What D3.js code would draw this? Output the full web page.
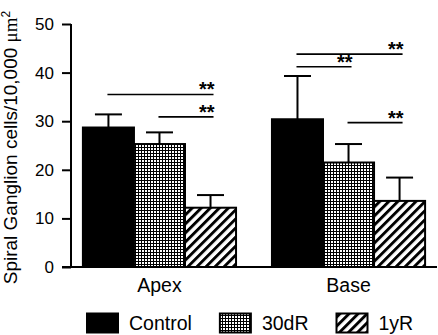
<!DOCTYPE html>
<html lang="en">
<head>
<meta charset="UTF-8">
<title>Spiral Ganglion cells</title>
<script src="https://d3js.org/d3.v7.min.js"></script>
<style>
  body { margin: 0; background: #fff; }
  text { font-family: Arial, "Liberation Sans", sans-serif; fill: #000; }
</style>
</head>
<body>
<script>
// data
const groups = ['Apex', 'Base'];
const series = ['Control', '30dR', '1yR'];
const means = {
    Apex: [28.7, 25.3, 12.2],
    Base: [30.4, 21.5, 13.6]
};
const errs = {
    Apex: [2.7, 2.4, 2.6],
    Base: [8.9, 3.8, 4.8]
};
const yTicks = [0, 10, 20, 30, 40, 50];
// significance brackets: group, from series, to series, height (y units)
const sigGroup = ['Apex', 'Apex', 'Base', 'Base', 'Base'];
const sigFrom = ['Control', '30dR', 'Control', 'Control', '30dR'];
const sigTo = ['1yR', '1yR', '1yR', '30dR', '1yR'];
const sigLevel = [35.5, 30.9, 43.8, 41.2, 29.7];
const sigLabel = ['**', '**', '**', '**', '**'];

const width = 438, height = 335;
const svg = d3.select('body').append('svg')
    .attr('width', width)
    .attr('height', height);

// patterns
const defs = svg.append('defs');
const grid = defs.append('pattern')
    .attr('id', 'grid')
    .attr('patternUnits', 'userSpaceOnUse')
    .attr('width', 3).attr('height', 3);
grid.append('rect').attr('width', 3).attr('height', 3).attr('fill', '#fff');
grid.append('rect').attr('width', 1).attr('height', 3).attr('fill', '#000');
grid.append('rect').attr('width', 3).attr('height', 1).attr('fill', '#000');

const hatch = defs.append('pattern')
    .attr('id', 'hatch')
    .attr('patternUnits', 'userSpaceOnUse')
    .attr('width', 6.4).attr('height', 6.4)
    .attr('patternTransform', 'rotate(45)');
hatch.append('rect').attr('width', 6.4).attr('height', 6.4).attr('fill', '#fff');
hatch.append('rect').attr('width', 2.9).attr('height', 6.4).attr('fill', '#000');

const fills = d3.scaleOrdinal()
    .domain(series)
    .range(['#000', 'url(#grid)', 'url(#hatch)']);

// scales
const y = d3.scaleLinear().domain([0, 50]).range([267, 24]);
const x0 = d3.scaleBand().domain(groups).range([71, 437])
    .paddingInner(0.19).paddingOuter(0.063);
const x1 = d3.scaleBand().domain(series).range([0, x0.bandwidth()]);

const barCenter = (g, s) => x0(g) + x1(s) + x1.bandwidth() / 2;

// bars
const barData = [];
groups.forEach(g => series.forEach((s, i) => {
    barData.push({ group: g, series: s, value: means[g][i], err: errs[g][i] });
}));

svg.append('g').selectAll('rect')
    .data(barData)
    .enter()
    .append('rect')
    .attr('x', d => x0(d.group) + x1(d.series))
    .attr('y', d => y(d.value))
    .attr('width', x1.bandwidth())
    .attr('height', d => y(0) - y(d.value))
    .attr('fill', d => fills(d.series))
    .attr('stroke', '#000')
    .attr('stroke-width', 2);

// error bars (upper only)
const eb = svg.append('g').attr('stroke', '#000').attr('stroke-width', 2);
barData.forEach(d => {
    const cx = barCenter(d.group, d.series);
    eb.append('line')
        .attr('x1', cx).attr('x2', cx)
        .attr('y1', y(d.value)).attr('y2', y(d.value + d.err));
    eb.append('line')
        .attr('x1', cx - 13.5).attr('x2', cx + 13.5)
        .attr('y1', y(d.value + d.err)).attr('y2', y(d.value + d.err));
});

// y axis
const yAxis = d3.axisLeft(y).tickValues(yTicks).tickSize(9).tickPadding(8);
const ya = svg.append('g')
    .attr('transform', 'translate(71,0)')
    .call(yAxis);
ya.select('.domain').attr('stroke-width', 2).attr('d', `M0,${y(50)}V${y(0)}`);
ya.selectAll('.tick line').attr('stroke-width', 2);
ya.selectAll('.tick text')
    .style('font-family', 'Arial, "Liberation Sans", sans-serif')
    .style('font-size', '17px');

// x baseline
svg.append('line')
    .attr('x1', 62).attr('x2', 437)
    .attr('y1', y(0)).attr('y2', y(0))
    .attr('stroke', '#000').attr('stroke-width', 2);

// group labels
svg.append('g').selectAll('text')
    .data(groups)
    .enter()
    .append('text')
    .attr('x', d => x0(d) + x0.bandwidth() / 2)
    .attr('y', 292)
    .attr('text-anchor', 'middle')
    .style('font-size', '19.5px')
    .text(d => d);

// y title
const yt = svg.append('text')
    .attr('transform', `translate(17,${(y(0) + y(50)) / 2 + 2}) rotate(-90)`)
    .attr('text-anchor', 'middle')
    .style('font-size', '19px');
yt.append('tspan').text('Spiral Ganglion cells/10,000 ');
yt.append('tspan').style('font-family', '"Liberation Serif", "Times New Roman", serif').text('\u03bcm');
yt.append('tspan').attr('dy', -7).style('font-size', '12px').text('2');

// significance brackets
const sig = svg.append('g');
sigLevel.forEach((lv, i) => {
    const xa = barCenter(sigGroup[i], sigFrom[i]) - 1;
    const xb = barCenter(sigGroup[i], sigTo[i]) + 3;
    sig.append('line')
        .attr('x1', xa).attr('x2', xb)
        .attr('y1', y(lv)).attr('y2', y(lv))
        .attr('stroke', '#000').attr('stroke-width', 1.6);
    sig.append('text')
        .attr('x', xb + 1)
        .attr('y', y(lv) + 2)
        .attr('text-anchor', 'end')
        .style('font-size', '20px')
        .style('font-weight', 'bold')
        .text(sigLabel[i]);
});

// legend
const legend = svg.append('g');
let lx = 87;
series.forEach(s => {
    legend.append('rect')
        .attr('x', lx).attr('y', 313.5)
        .attr('width', 31).attr('height', 19)
        .attr('fill', fills(s))
        .attr('stroke', '#000').attr('stroke-width', 2);
    const t = legend.append('text')
        .attr('x', lx + 42).attr('y', 330)
        .style('font-size', '19.5px')
        .text(s);
    lx += 42 + t.node().getComputedTextLength() + 28;
});
</script>
</body>
</html>
